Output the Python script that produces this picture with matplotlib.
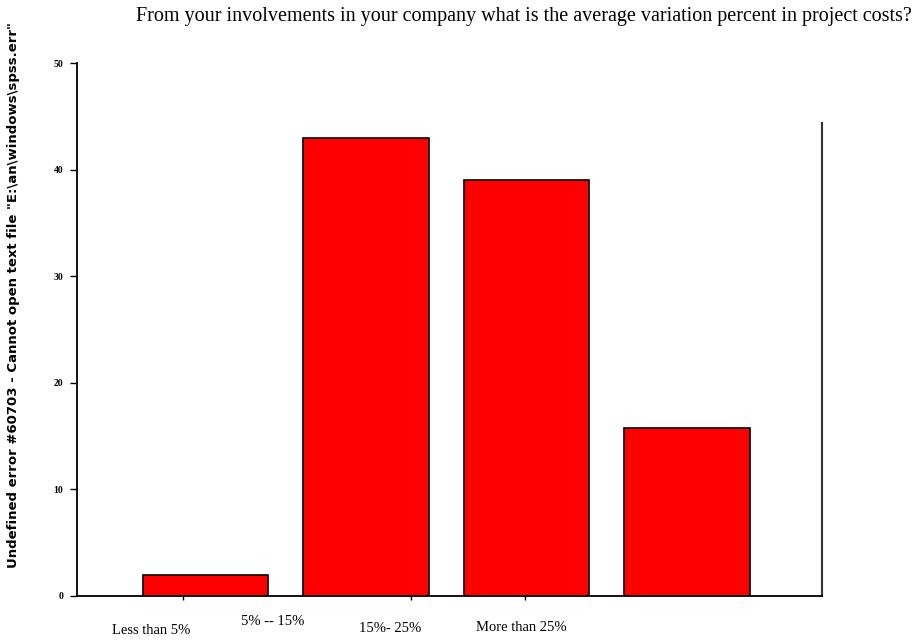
import matplotlib
matplotlib.use("Agg")
import matplotlib.pyplot as plt

# data
categories = ["Less than 5%", "5% -- 15%", "15%- 25%", "More than 25%"]
values = [2.0, 43.0, 39.0, 15.8]
yticks = [0, 10, 20, 30, 40, 50]

# label positions (offset left of the bars) and vertical pads, like the original
label_pos = [-0.34, 0.42, 1.15, 1.97]
label_pad = [20, 14, 19, 18]
# stray short tick marks under the axis
minor_ticks = [-0.14, 1.28, 1.99]

fig = plt.figure(figsize=(9.22, 6.42), dpi=100)
ax = fig.add_axes([0.0835, 0.0717, 0.808, 0.830])

x = list(range(len(categories)))
ax.bar(x, values, width=0.78, color="#ff0000", edgecolor="black", linewidth=1.2)

ax.set_xlim(-0.8, 3.84)
ax.set_ylim(0, 50)

for s in ["top", "right"]:
    ax.spines[s].set_visible(False)
ax.spines["left"].set_linewidth(1.3)
ax.spines["bottom"].set_linewidth(1.3)
# partial right border line
ax.axvline(3.84, ymin=0, ymax=0.887, color="#333333", linewidth=1.5, clip_on=False)

ax.set_yticks(yticks)
ax.set_yticklabels([str(v) for v in yticks], fontsize=7, family="Liberation Serif",
                   fontweight="bold")
ax.tick_params(axis="y", length=5, width=1, pad=5)

ax.set_xticks(label_pos)
ax.set_xticklabels(categories, fontsize=10.5, family="Liberation Serif")
ax.set_xticks(minor_ticks, minor=True)
ax.tick_params(axis="x", which="major", length=0)
ax.tick_params(axis="x", which="minor", length=3, width=1)
for t, p in zip(ax.xaxis.get_major_ticks(), label_pad):
    t.set_pad(p)

ax.set_ylabel('Undefined error #60703 - Cannot open text file "E:\\an\\windows\\spss.err"',
              fontsize=9.5, fontweight="bold", family="DejaVu Sans")
ax.yaxis.set_label_coords(-0.076, 0.565)

fig.text(0.568, 0.975, "From your involvements in your company what is the average variation percent in project costs?",
         ha="center", va="center", fontsize=14.5, family="Liberation Serif")

fig.savefig("out.png", dpi=100)
